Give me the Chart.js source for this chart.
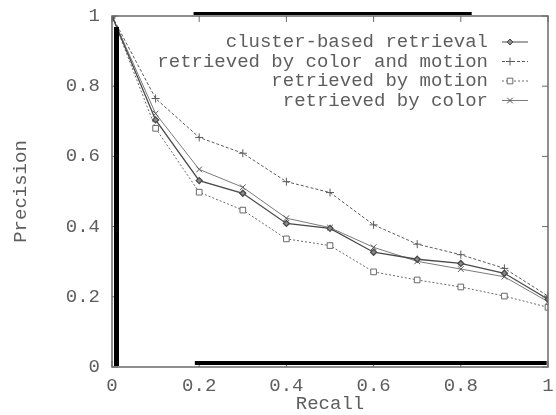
<!DOCTYPE html>
<html>
<head>
<meta charset="utf-8">
<script src="https://cdn.jsdelivr.net/npm/chart.js@4/dist/chart.umd.min.js"></script>
<style>
  html, body { margin: 0; padding: 0; background: #fff; }
  #wrap { width: 556px; height: 415px; position: relative; }
</style>
</head>
<body>
<div id="wrap"><canvas id="chart-pr" width="556" height="415"></canvas></div>
<script>
// valores
var recall = [0, 0.1, 0.2, 0.3, 0.4, 0.5, 0.6, 0.7, 0.8, 0.9, 1];
var clusterBased = [1, 0.704, 0.531, 0.495, 0.409, 0.395, 0.327, 0.307, 0.295, 0.267, 0.193];
var colorMotion = [1, 0.765, 0.654, 0.609, 0.528, 0.497, 0.405, 0.350, 0.320, 0.281, 0.202];
var motionOnly = [1, 0.680, 0.498, 0.447, 0.365, 0.346, 0.271, 0.248, 0.228, 0.202, 0.170];
var colorOnly = [1, 0.722, 0.563, 0.512, 0.424, 0.397, 0.341, 0.301, 0.279, 0.257, 0.186];
var tickValues = [0, 0.2, 0.4, 0.6, 0.8, 1];
var nomes = ["cluster-based retrieval", "retrieved by color and motion", "retrieved by motion", "retrieved by color"];

var fonte = "'Liberation Mono', 'DejaVu Sans Mono', monospace";
var corTexto = "#5e5e5e";

function pontos(valores) {
  var lista = [];
  for (var i = 0; i < recall.length; i++) {
    lista.push({ x: recall[i], y: valores[i] });
  }
  return lista;
}

// moldura, ticks internos, legenda estilo gnuplot e as barras pretas do scan
var gnuplotPlugin = {
  id: "gnuplot",
  afterDraw: function (chart) {
    var ctx = chart.ctx;
    var a = chart.chartArea;
    var sx = chart.scales.x;
    var sy = chart.scales.y;
    ctx.save();

    // moldura
    ctx.strokeStyle = "#6a6a6a";
    ctx.lineWidth = 1.5;
    ctx.strokeRect(a.left, a.top, a.right - a.left, a.bottom - a.top);

    // ticks para dentro (espelhados)
    ctx.lineWidth = 1;
    for (var i = 0; i < tickValues.length; i++) {
      var px = sx.getPixelForValue(tickValues[i]);
      ctx.beginPath();
      ctx.moveTo(px, a.bottom); ctx.lineTo(px, a.bottom - 6);
      ctx.moveTo(px, a.top); ctx.lineTo(px, a.top + 6);
      var py = sy.getPixelForValue(tickValues[i]);
      ctx.moveTo(a.left, py); ctx.lineTo(a.left + 6, py);
      ctx.moveTo(a.right, py); ctx.lineTo(a.right - 6, py);
      ctx.stroke();
    }

    // legenda
    ctx.font = "19px " + fonte;
    ctx.textAlign = "right";
    ctx.textBaseline = "middle";
    for (var k = 0; k < chart.data.datasets.length; k++) {
      var ds = chart.data.datasets[k];
      var ly = a.top + 26 + k * 19.5;
      var tx = a.right - 60;
      ctx.fillStyle = corTexto;
      ctx.fillText(ds.label, tx, ly);
      ctx.strokeStyle = ds.borderColor;
      ctx.lineWidth = 1;
      ctx.setLineDash(ds.borderDash || []);
      ctx.beginPath();
      ctx.moveTo(tx + 14, ly); ctx.lineTo(tx + 40, ly);
      ctx.stroke();
      ctx.setLineDash([]);
      ctx.strokeStyle = ds.pointBorderColor;
      ctx.fillStyle = ds.pointBackgroundColor || ds.pointBorderColor;
      Chart.helpers.drawPoint(ctx, {
        pointStyle: ds.pointStyle,
        radius: ds.pointRadius,
        borderWidth: 1
      }, tx + 22, ly);
    }

    // barras pretas grossas do documento escaneado
    ctx.fillStyle = "#000";
    ctx.fillRect(a.left + 2, a.top + 11, 5, a.bottom - a.top - 12);
    ctx.fillRect(sx.getPixelForValue(0.187), a.top - 4, sx.getPixelForValue(0.825) - sx.getPixelForValue(0.187), 3);
    ctx.fillRect(sx.getPixelForValue(0.19), a.bottom - 6, sx.getPixelForValue(0.997) - sx.getPixelForValue(0.19), 4);

    ctx.restore();
  }
};

var ctxPR = document.getElementById("chart-pr").getContext("2d");

var graficoPR = new Chart(ctxPR, {
  type: "line",
  data: {
    datasets: [
      {
        label: nomes[0],
        data: pontos(clusterBased),
        borderColor: "#4a4a4a",
        backgroundColor: "#6a6a6a",
        borderWidth: 1.3,
        pointStyle: "rectRot",
        pointRadius: 3,
        pointBorderColor: "#4a4a4a",
        pointBackgroundColor: "#8a8a8a",
        tension: 0,
        fill: false
      },
      {
        label: nomes[1],
        data: pontos(colorMotion),
        borderColor: "#5a5a5a",
        backgroundColor: "#5a5a5a",
        borderWidth: 1,
        borderDash: [3, 2],
        pointStyle: "cross",
        pointRadius: 4,
        pointBorderColor: "#5a5a5a",
        tension: 0,
        fill: false
      },
      {
        label: nomes[2],
        data: pontos(motionOnly),
        borderColor: "#6a6a6a",
        backgroundColor: "transparent",
        borderWidth: 1,
        borderDash: [2, 2],
        pointStyle: "rect",
        pointRadius: 4,
        pointBorderColor: "#6a6a6a",
        pointBackgroundColor: "#ffffff",
        tension: 0,
        fill: false
      },
      {
        label: nomes[3],
        data: pontos(colorOnly),
        borderColor: "#7a7a7a",
        backgroundColor: "#7a7a7a",
        borderWidth: 1,
        pointStyle: "crossRot",
        pointRadius: 4,
        pointBorderColor: "#555555",
        tension: 0,
        fill: false
      }
    ]
  },
  options: {
    responsive: false,
    animation: false,
    events: [],
    layout: { padding: { left: 0, right: 8, top: 16, bottom: 0 } },
    plugins: {
      legend: { display: false },
      tooltip: { enabled: false }
    },
    scales: {
      x: {
        type: "linear",
        min: 0,
        max: 1,
        afterFit: function (scale) {
          scale.height = 48;
          scale.paddingLeft = 0;
          scale.paddingRight = 0;
        },
        afterBuildTicks: function (scale) {
          scale.ticks = tickValues.map(function (v) { return { value: v }; });
        },
        border: { display: false },
        grid: { display: false, drawTicks: false },
        ticks: {
          color: corTexto,
          padding: 8,
          maxRotation: 0,
          font: { family: fonte, size: 19 },
          callback: function (v) { return String(v); }
        },
        title: {
          display: true,
          text: "Recall",
          color: corTexto,
          padding: { top: -4, bottom: 0 },
          font: { family: fonte, size: 19 }
        }
      },
      y: {
        type: "linear",
        min: 0,
        max: 1,
        afterFit: function (scale) {
          scale.width = 112;
          scale.paddingTop = 0;
          scale.paddingBottom = 0;
        },
        afterBuildTicks: function (scale) {
          scale.ticks = tickValues.map(function (v) { return { value: v }; });
        },
        border: { display: false },
        grid: { display: false, drawTicks: false },
        ticks: {
          color: corTexto,
          padding: 12,
          font: { family: fonte, size: 19 },
          callback: function (v) { return String(v); }
        },
        title: {
          display: true,
          text: "Precision",
          color: corTexto,
          padding: { top: 10, bottom: 0 },
          font: { family: fonte, size: 19 }
        }
      }
    }
  },
  plugins: [gnuplotPlugin]
});
</script>
</body>
</html>
